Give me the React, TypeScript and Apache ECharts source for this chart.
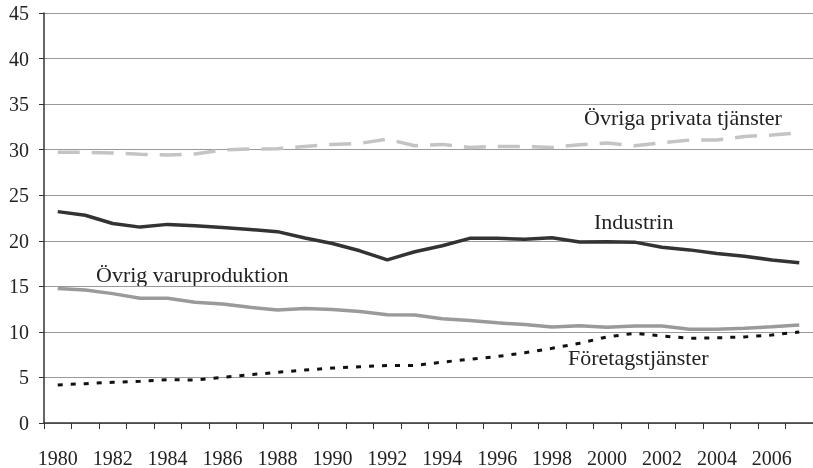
import React, { useEffect, useRef } from "react";
import * as echarts from "echarts";

const years = ["1980","1981","1982","1983","1984","1985","1986","1987","1988","1989","1990","1991","1992","1993","1994","1995","1996","1997","1998","1999","2000","2001","2002","2003","2004","2005","2006","2007"];

const industrin = [23.2,22.8,21.9,21.5,21.8,21.65,21.45,21.25,21.0,20.3,19.7,18.9,17.9,18.8,19.45,20.27,20.27,20.18,20.33,19.87,19.9,19.85,19.3,19.0,18.6,18.3,17.9,17.6];
const ovrigVaru = [14.75,14.6,14.2,13.7,13.7,13.25,13.07,12.7,12.4,12.56,12.46,12.24,11.88,11.85,11.44,11.26,11.0,10.8,10.53,10.68,10.5,10.64,10.64,10.28,10.28,10.4,10.56,10.75];
const foretag = [4.18,4.32,4.47,4.58,4.76,4.72,5.01,5.3,5.56,5.81,6.03,6.18,6.32,6.32,6.68,7.0,7.3,7.7,8.2,8.75,9.45,9.84,9.55,9.3,9.35,9.45,9.66,9.99];
const ovrigaPrivata = [29.71,29.71,29.64,29.49,29.42,29.53,29.96,30.07,30.1,30.36,30.58,30.69,31.16,30.43,30.58,30.25,30.36,30.36,30.25,30.54,30.72,30.43,30.76,31.05,31.05,31.45,31.6,31.85];

const FONT = "Liberation Serif";

export default function App() {
  const ref = useRef<HTMLDivElement>(null);
  useEffect(() => {
    const chart = echarts.init(ref.current!, null, { renderer: "svg" });
    const mk = (name: string, data: number[], color: string, width: number, type: any) => ({
      name,
      type: "line",
      data,
      symbol: "none",
      lineStyle: { color, width, type },
      z: 3,
    });
    const txt = (text: string, left: number, top: number, size = 22) => ({
      type: "text",
      left,
      top,
      style: { text, fontFamily: FONT, fontSize: size, fill: "#222" },
    });
    chart.setOption({
      animation: false,
      grid: { left: 44, right: 0, top: 13, bottom: 42 },
      xAxis: {
        type: "category",
        data: years,
        boundaryGap: true,
        axisLine: { lineStyle: { color: "#333", width: 1.5 } },
        axisTick: { show: true, length: 6, interval: 0, lineStyle: { color: "#333" } },
        axisLabel: {
          interval: 1,
          margin: 25,
          color: "#222",
          fontFamily: FONT,
          fontSize: 20,
        },
      },
      yAxis: {
        type: "value",
        min: 0,
        max: 45,
        interval: 5,
        axisLine: { show: true, lineStyle: { color: "#333", width: 1.5 } },
        axisTick: { show: true, length: 5, lineStyle: { color: "#333" } },
        axisLabel: { margin: 15, color: "#222", fontFamily: FONT, fontSize: 20 },
        splitLine: { show: true, lineStyle: { color: "#999", width: 1 } },
      },
      series: [
        mk("Övriga privata tjänster", ovrigaPrivata, "#c4c4c4", 3.5, [22, 12]),
        mk("Industrin", industrin, "#333333", 3.5, "solid"),
        mk("Övrig varuproduktion", ovrigVaru, "#9a9a9a", 3.5, "solid"),
        mk("Företagstjänster", foretag, "#111111", 3, [5, 8]),
      ],
      graphic: [
        txt("Övriga privata tjänster", 584, 106),
        txt("Industrin", 594, 210),
        txt("Övrig varuproduktion", 96, 263),
        txt("Företagstjänster", 568, 346),
      ],
    });
    return () => chart.dispose();
  }, []);
  return <div ref={ref} style={{ position: "fixed", left: 0, top: 0, width: 813, height: 468 }} />;
}
